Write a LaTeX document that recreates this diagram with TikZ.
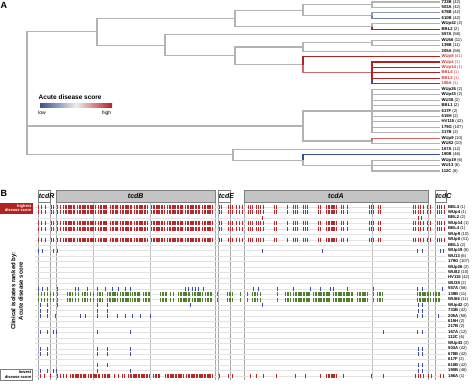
\documentclass[tikz,border=0pt]{standalone}
\usepackage{fontspec}
\setmainfont{Liberation Sans}
\definecolor{tgray}{HTML}{B3B3B3}
\definecolor{tred}{HTML}{B22222}
\definecolor{lred}{HTML}{D06A6A}
\definecolor{tblue}{HTML}{3A4F8F}
\definecolor{gblue}{HTML}{8E9AB5}
\definecolor{bgray}{HTML}{6F7FA8}
\definecolor{labred}{HTML}{CC3333}
\definecolor{gfill}{HTML}{C4C4C4}
\definecolor{gbord}{HTML}{7F7F7F}
\definecolor{rowc}{HTML}{E2E2E2}
\definecolor{vlc}{HTML}{A6A6A6}
\definecolor{tkred}{HTML}{B52B2B}
\definecolor{tkgreen}{HTML}{4F7F2F}
\definecolor{tkblue}{HTML}{3F4FA8}
\newcommand\mytk[3]{\foreach \x in {#3}{\draw[#1,line width=0.75pt] ({\x},{#2-2}) -- ({\x},{#2+2});}}
\newcommand\myblk[3]{\foreach \a/\b in {#3}{\draw[#1,line width=4pt,dash pattern=on 1.1pt off 0.5pt] (\a,#2) -- (\b,#2);}}
\newcommand\redrow[1]{%
 \mytk{tkred}{#1}{38.5,41,45,51.5,53.5,57.5,60.5,219,221,228,230,232.5,236,239,242,248,250,252,256,258,260,263,274,276,287,293,295,297,303,305,307,318,320,341,343,347,369,371,373,378,380,413,415.5,418,420.5,423,427.5,430,437,439,441.5,444}%
 \myblk{tkred}{#1}{63/75,77/96,98/107,110/118,120/132,134/147,151/165,167/183,185/200,202/212,326/337}}
\newcommand\greenrow[1]{%
 \mytk{tkgreen}{#1}{38,41,44,47,50.5,53,57,75,78,90,93,170,173,217,240,247,260,277,373}%
 \myblk{tkgreen}{#1}{67/72,82/88,97/103,107/117,120/130,132/140,143/150,160/167,178/190,192/203,205/212,227/233,252/257,285/290,293/310,313/330,333/353,357/367,377/383,417/430,433/440}}
\begin{document}
\begin{tikzpicture}[x=1pt,y=-1pt,
 br/.style={draw=tgray,line width=1.1pt},
 leaflab/.style={anchor=west,inner sep=0pt,font=\fontsize{4.2}{5}\selectfont},
 rowlab/.style={anchor=west,inner sep=0pt,font=\fontsize{4.2}{5}\selectfont},
 rowline/.style={draw=rowc,line width=0.4pt},
 gbox/.style={draw=gbord,fill=gfill,line width=0.6pt},
 sbox/.style={draw=gbord,fill=white,line width=0.6pt},
 glab/.style={font=\bfseries\itshape\fontsize{7}{8}\selectfont,inner sep=0pt},
 vline/.style={draw=vlc,line width=0.6pt},
 vlight/.style={draw=rowc!85!black,line width=0.4pt},
 panel/.style={font=\bfseries\fontsize{9}{10}\selectfont,inner sep=0pt}]
\useasboundingbox (0,0) rectangle (474,389);
% ---------------- Panel A ----------------
\node[panel] (pA) at (4,5) {A};
\foreach \i/\nm/\ct/\cl in {0/733B/42/black,1/503A/42/black,2/678B/42/black,3/610B/42/black,4/WUp42/2/black,5/BBL2/2/black,6/557A/58/black,7/WU66/11/black,8/139B/11/black,9/205A/58/black,10/WUp8/41/labred,11/WUp4/1/labred,12/WUp14/1/labred,13/BBL4/1/labred,14/BBL3/1/labred,15/186A/1/labred,16/WUp26/2/black,17/WUp43/2/black,18/WU38/2/black,19/BBL1/2/black,20/617F/2/black,21/615H/2/black,22/HV115/42/black,23/179G/107/black,24/217B/2/black,25/WUp9/10/black,26/WU82/10/black,27/167A/12/black,28/190B/46/black,29/WUp19/6/black,30/WU13/6/black,31/112C/6/black}
{\coordinate (L\i) at (440,{2+5.45*\i});
 \node[leaflab,text=\cl] (n\i) at (441.5,{2+5.45*\i}) {\textbf{\nm} (\ct)};}
% internal nodes
\coordinate (A1) at (372,4.725);
\coordinate (A2) at (372,15.625);
\coordinate (B0) at (303,10.175);
\coordinate (C0) at (372,26.525);
\coordinate (D0) at (235,18.35);
\coordinate (S0) at (372,42.875);
\coordinate (R0) at (303,46.96);
\coordinate (U0) at (372,72.85);
\coordinate (T0) at (303,64.68);
\coordinate (Q0) at (235,55.82);
\coordinate (P0) at (165,45.26);
\coordinate (E0) at (97,31.8);
\coordinate (V0) at (372,111);
\coordinate (W0) at (372,140.975);
\coordinate (X0) at (303,125.99);
\coordinate (Z0) at (372,165.5);
\coordinate (Y0) at (303,160.05);
\coordinate (AA) at (233,154.6);
\coordinate (root) at (27,93.2);
% edges
\draw[br] (root) |- (E0); \draw[br] (root) |- (X0); \draw[br] (root) |- (AA);
\draw[br] (E0) |- (D0); \draw[br] (E0) |- (P0);
\draw[br] (D0) |- (B0); \draw[br] (D0) |- (C0);
\draw[br] (B0) |- (A1); \draw[br] (B0) |- (A2);
\draw[br] (A1) |- (L0); \draw[br] (A1) |- (L1);
\draw[br,draw=gblue] (A2) |- (L2); \draw[br,draw=bgray] (A2) |- (L3);
\draw[br] (C0) |- (L4); \draw[br,draw=tred] (C0) |- (L5);
\draw[br] (P0) |- (L6); \draw[br] (P0) |- (Q0);
\draw[br] (Q0) |- (R0); \draw[br] (Q0) |- (T0);
\draw[br] (R0) |- (S0); \draw[br] (R0) |- (L9);
\draw[br] (S0) |- (L7); \draw[br] (S0) |- (L8);
\draw[br,draw=tred] (T0) |- (L10); \draw[br,draw=lred] (T0) |- (U0);
\draw[br,draw=tblue] (U0) |- (L15);
\foreach \k in {11,12,13,14} {\draw[br,draw=tred] (U0) |- (L\k);}
\draw[br] (X0) |- (V0); \draw[br] (X0) |- (W0);
\foreach \k in {16,...,24} {\draw[br] (V0) |- (L\k);}
\draw[br,draw=lred] (W0) |- (L25); \draw[br] (W0) |- (L26);
\draw[br] (AA) |- (L27); \draw[br] (AA) |- (Y0);
\draw[br,draw=tblue] (Y0) |- (L28); \draw[br] (Y0) |- (Z0);
\foreach \k in {29,30,31} {\draw[br] (Z0) |- (L\k);}
% legend
\node[anchor=west,inner sep=0pt,font=\bfseries\fontsize{6.5}{7}\selectfont] (legt) at (38.5,97) {Acute disease score};
\shade[left color=tblue,right color=tred,middle color=gray!15] (40,103) rectangle (112,107);
\node[inner sep=0pt,font=\fontsize{5}{6}\selectfont] (low) at (42,113) {low};
\node[inner sep=0pt,font=\fontsize{5}{6}\selectfont] (high) at (106.5,113) {high};
% ---------------- Panel B ----------------
\node[panel] (pB) at (4,193) {B};
% vertical guide lines
\foreach \x in {93,150,372} {\draw[vlight] (\x,202) -- (\x,380);}
\foreach \x in {38,50.5,56,215.5,218,230,244,428,435} {\draw[vline] (\x,202) -- (\x,380);}
% gene boxes
\draw[sbox] (38,190) rectangle (50.5,202);
\draw[gbox] (56,190) rectangle (215.5,202);
\draw[sbox] (218,190) rectangle (230,202);
\draw[gbox] (244,190) rectangle (428,202);
\draw[sbox] (435,190) rectangle (446,202);
\node[glab,anchor=west] (tcdR) at (38.7,196) {tcdR};
\node[glab] (tcdB) at (135.7,196) {tcdB};
\node[glab,anchor=west] (tcdE) at (218.7,196) {tcdE};
\node[glab] (tcdA) at (336,196) {tcdA};
\node[glab,anchor=west] (tcdC) at (435.7,196) {tcdC};
% rows
\foreach \j/\nm/\ct in {0/BBL3/1,1/WUp4/1,2/BBL2/2,3/WUp14/1,4/BBL4/1,5/WUp9/10,6/WUp8/41,7/BBL1/2,8/WUp19/6,9/WU13/6,10/179G/107,11/WUp26/2,12/WU82/10,13/HV115/42,14/WU38/2,15/557A/58,16/139B/11,17/WU66/11,18/WUp42/2,19/733B/42,20/205A/58,21/615H/2,22/217B/2,23/167A/12,24/112C/6,25/WUp43/2,26/503A/42,27/678B/42,28/617F/2,29/610B/42,30/190B/46,31/186A/1}
{\draw[rowline] (35,{207+5.45*\j}) -- (446,{207+5.45*\j});
 \node[rowlab] (r\j) at (448,{207+5.45*\j}) {\textbf{\nm} (\ct)};}
% ticks
\redrow{207}
\redrow{212.45}
\mytk{tkred}{217.9}{262,418,421.5}
\redrow{223.35}
\redrow{228.8}
\redrow{239.7}
\mytk{tkblue}{250.6}{38,42,53,57,262,322,417,422,440,443}
\mytk{tkblue}{288.75}{38,42,47,57,75,78,87,97,105,112,118,125,130,185,188,192,195,198,203,253,258,277,293,310,320,330,333,347,373,417,422,442}
\greenrow{294.2}
\greenrow{299.65}
\mytk{tkblue}{305.1}{40,47,57,97,107,190,262,418,422}
\mytk{tkblue}{310.55}{40,47,97,107,418,422}
\mytk{tkblue}{316}{40,47,55,80,85,97,107,117,125,132,140,150,417,422,438}
\mytk{tkblue}{332.35}{40,47,53,56,97,130,383,417,422}
\mytk{tkblue}{348.7}{40,47,97,107,130,418,422}
\mytk{tkblue}{354.15}{40,47,97,107,130,418,422}
\mytk{tkblue}{365.05}{97,107,418,422}
\mytk{tkblue}{370.5}{40,47,53,56,97,130,418,422}
% 186A
\mytk{tkred}{375.95}{40,44,50,57,60,63,66,114,118,219,228,232,250,256,263,276,295,305,320,343,371,383,415.5,418,420.5,423,428,431,440,443}
\myblk{tkred}{375.95}{70/86,88/100,102/110,122/125,128/150,153/160,165/183,186/212,326/337}
% score boxes
\draw[fill=tred,draw=tred] (0,203) rectangle (32,213.5);
\node[anchor=east,align=right,inner sep=0pt,text=white,font=\bfseries\fontsize{4}{4.6}\selectfont] (hib) at (31.5,208.2) {highest\\disease score};
\draw[fill=white,draw=gbord,line width=0.5pt] (0,369) rectangle (32,380);
\node[anchor=east,align=right,inner sep=0pt,font=\bfseries\fontsize{4}{4.6}\selectfont] (lob) at (31.5,374.5) {lowest\\disease score};
% axis label
\node[rotate=90,align=center,inner sep=0pt,font=\bfseries\fontsize{6}{7.3}\selectfont] (ylab) at (17,291) {Clinical isolates ranked by:\\Acute disease score};
\end{tikzpicture}
\end{document}
